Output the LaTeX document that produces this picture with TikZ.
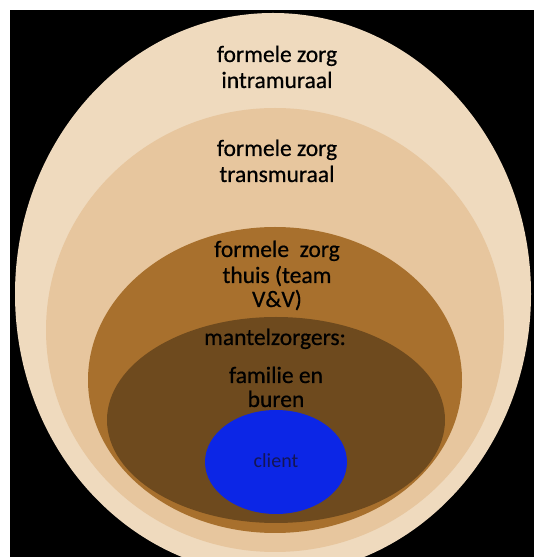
\documentclass[tikz,border=0pt]{standalone}
\usepackage{fontspec}
\setmainfont{Carlito}
\newfontfamily\heavier{Carlito}[FakeBold=0.6]
\definecolor{ringA}{RGB}{239,218,190}
\definecolor{ringB}{RGB}{231,198,158}
\definecolor{ringC}{RGB}{168,112,45}
\definecolor{ringD}{RGB}{110,74,30}
\definecolor{clientblue}{RGB}{12,38,230}
\definecolor{clienttext}{RGB}{20,22,85}
\tikzset{
  lbl/.style={anchor=base,inner sep=0pt,font=\heavier\fontsize{23.5}{26}\selectfont,text=black},
  clbl/.style={anchor=base,inner sep=0pt,font=\fontsize{20}{24}\selectfont,text=clienttext}
}
\begin{document}
\begin{tikzpicture}[x=1pt,y=1pt]
\useasboundingbox (0,0) rectangle (534,557);
\fill[white] (0,0) rectangle (534,557);
\fill[black] (10,0) rectangle (534,547);
\begin{scope}
\clip (10,0) rectangle (534,547);
\fill[ringA] (273,263) ellipse [x radius=258, y radius=281];
\fill[ringB] (275,227) ellipse [x radius=229, y radius=222];
\fill[ringC] (275,177) ellipse [x radius=187, y radius=153];
\fill[ringD] (276,137) ellipse [x radius=169, y radius=103];
\fill[clientblue] (276,95) ellipse [x radius=71, y radius=52];
\end{scope}
\node[lbl] (a1) at (277,495) {formele zorg};
\node[lbl] (a2) at (277,469) {intramuraal};
\node[lbl] (b1) at (277,401) {formele zorg};
\node[lbl] (b2) at (277,375) {transmuraal};
\node[lbl] (c1) at (277,300) {formele\ \ zorg};
\node[lbl] (c2) at (277,274) {thuis (team};
\node[lbl] (c3) at (277,250) {V\&V)};
\node[lbl] (d1) at (275,212) {mantelzorgers:};
\node[lbl] (e1) at (276,174) {familie en};
\node[lbl] (e2) at (276,150) {buren};
\node[clbl] (f1) at (276,89) {client};
\end{tikzpicture}
\end{document}
